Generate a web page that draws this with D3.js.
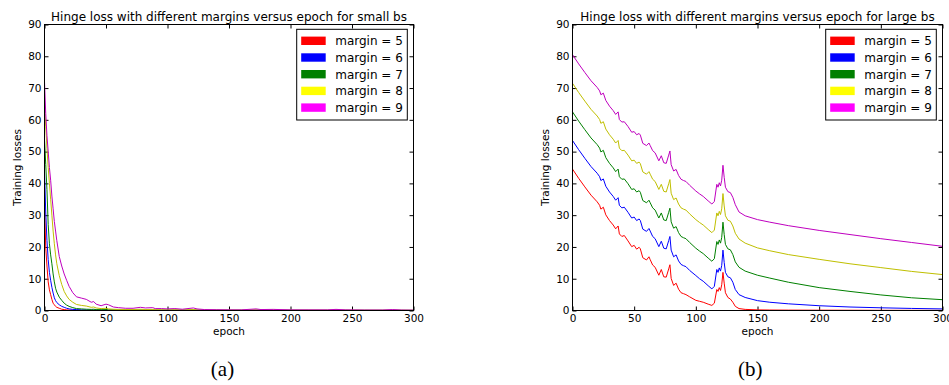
<!DOCTYPE html>
<html>
<head>
<meta charset="utf-8">
<script src="https://cdn.jsdelivr.net/npm/d3@7/dist/d3.min.js"></script>
<style>
  html, body { margin: 0; padding: 0; background: #fff; }
  svg { display: block; }
  text { font-family: "DejaVu Sans", sans-serif; fill: #000; }
</style>
</head>
<body>
<div id="dataviz-container"></div>
<script>
// hinge loss curves, two panels (small bs / large bs)

var margins = [5, 6, 7, 8, 9]
var xTicks = [0, 50, 100, 150, 200, 250, 300]
var yTicks = [0, 10, 20, 30, 40, 50, 60, 70, 80, 90]

// panel (a) - small batch size
var smallEpochs = [0,1,2,3,4,5,6,7,8,9,
  10,12,14,16,18,20,23,26,30,34,
  38,40,42,46,50,52,56,60,66,72,
  78,82,88,90,95,100,106,112,121,124,
  130,140,150,160,172,176,186,200,215,230,
  237,245,260,275,283,290,300]
var smallM5 = [34,20,14,9,6.5,5,3.5,2.3,1.8,1.3,
  1.0,0.7,0.4,0.3,0.2,0.15,0.1,0.08,0.05,0.05,
  0.04,0.04,0.03,0.03,0.03,0.03,0.02,0.02,0.02,0.02,
  0.02,0.02,0.02,0.02,0.02,0.02,0.02,0.01,0.02,0.01,
  0.01,0.01,0.01,0.01,0.01,0.01,0.01,0.01,0.01,0.01,
  0.01,0.01,0.01,0.01,0.01,0.01,0.01]
var smallM6 = [44,31,22,16,12,9.5,7.3,5.5,4,3.1,
  2.5,1.8,1.3,1.0,0.7,0.5,0.35,0.3,0.2,0.18,
  0.15,0.15,0.12,0.1,0.12,0.1,0.08,0.07,0.06,0.06,
  0.07,0.06,0.06,0.05,0.05,0.05,0.05,0.04,0.06,0.04,
  0.04,0.03,0.03,0.03,0.04,0.03,0.03,0.03,0.02,0.02,
  0.03,0.02,0.02,0.02,0.03,0.02,0.02]
var smallM7 = [54,46,38,27,21,17.5,14.7,11.5,9,7,
  5.8,4.2,3.2,2.3,1.7,1.3,0.9,0.6,0.5,0.4,
  0.35,0.4,0.3,0.25,0.3,0.2,0.2,0.15,0.15,0.12,
  0.15,0.12,0.12,0.1,0.1,0.1,0.1,0.08,0.12,0.08,
  0.07,0.06,0.06,0.05,0.08,0.05,0.06,0.05,0.04,0.04,
  0.06,0.04,0.04,0.03,0.05,0.03,0.03]
var smallM8 = [64,58,51,45,40,35,30,25,21,17.5,
  14.7,11,8.2,6.0,4.6,3.5,2.6,1.9,1.6,1.4,
  1.0,1.1,0.8,0.6,0.7,0.5,0.4,0.35,0.3,0.3,
  0.4,0.3,0.35,0.25,0.25,0.2,0.25,0.2,0.3,0.2,
  0.15,0.15,0.12,0.12,0.2,0.12,0.15,0.1,0.1,0.1,
  0.15,0.1,0.08,0.08,0.12,0.08,0.06]
var smallM9 = [72,62,55,50,45,41,36,32,28,25,
  22,17,14,11.5,9.5,7.6,5.6,4.3,3.9,3.5,
  2.6,2.8,2.0,1.5,2.0,1.8,1.1,0.9,0.7,0.7,
  1.0,0.8,0.9,0.6,0.6,0.5,0.6,0.4,0.8,0.5,
  0.3,0.25,0.2,0.2,0.5,0.3,0.35,0.2,0.2,0.2,
  0.35,0.2,0.15,0.15,0.3,0.15,0.1]

// panel (b) - large batch size
var largeEpochs = [0,5,10,15,20,22,23,25,27,30,
  33,35,37,38,40,42,45,48,50,52,
  54,55,57,60,62,63,65,67,70,72,
  74,76,78,79,80,82,84,86,88,90,
  92,95,100,103,106,110,113,115,117,118,
  119,120,121,122,123,124,126,128,130,132,
  135,140,150,160,175,200,225,250,275,300]
var largeM5 = [44.5,41.6,38.9,36.3,34.2,33.1,31.9,32.5,30.1,28.3,
  26.9,25.7,26.6,24.1,23.3,23.6,21.9,20.1,20.5,19.3,
  19.9,19.4,16.6,15.9,16.9,16.0,14.3,13.6,11.1,12.9,
  10.6,10.5,13.1,14.4,10.1,7.9,8.6,6.7,5.6,5.3,
  5.0,4.3,3.2,2.9,2.6,2.0,1.6,2.3,6.6,6.0,
  7.2,6.3,8.1,12.0,8.6,5.6,4.1,3.6,2.6,1.3,
  0.6,0.35,0.2,0.15,0.12,0.1,0.08,0.06,0.05,0.05]
var largeM6 = [53.5,50.6,47.9,45.3,43.2,42.1,40.9,41.4,39.1,37.3,
  35.9,34.7,35.5,33.1,32.3,32.5,30.9,29.1,29.4,28.3,
  28.8,28.3,25.6,24.9,25.8,25.0,23.3,22.6,20.1,21.8,
  19.6,19.4,22.0,23.3,19.0,16.9,17.5,15.6,14.5,14.1,
  13.8,12.6,11.0,10.0,9.2,7.8,6.8,7.6,12.9,12.0,
  13.4,12.4,14.2,19.0,15.1,12.0,10.6,10.3,8.9,6.6,
  5.0,4.1,3.1,2.6,2.1,1.5,1.1,0.85,0.65,0.5]
var largeM7 = [62.5,59.6,56.9,54.3,52.2,51.1,49.9,50.4,48.1,46.3,
  44.9,43.7,44.5,42.1,41.3,41.4,39.9,38.1,38.3,37.3,
  37.7,37.2,34.6,33.9,34.7,33.9,32.3,31.6,29.1,30.7,
  28.5,28.3,30.9,32.2,27.9,25.9,26.4,24.5,23.3,22.9,
  22.6,21.4,19.6,18.7,17.9,16.5,15.5,16.3,21.7,20.8,
  22.2,21.2,23.0,27.8,23.9,20.8,19.4,19.1,17.6,15.3,
  13.6,12.4,11.1,10.2,8.9,7.2,6.0,4.9,4.0,3.4]
var largeM8 = [71.5,68.6,65.9,63.3,61.2,60.1,58.9,59.4,57.1,55.3,
  53.9,52.7,53.5,51.1,50.3,50.4,48.9,47.1,47.3,46.3,
  46.7,46.2,43.6,42.9,43.7,42.9,41.3,40.6,38.1,39.7,
  37.5,37.3,39.9,41.2,36.9,34.9,35.4,33.5,32.3,31.9,
  31.6,30.4,28.6,27.7,26.9,25.5,24.5,25.3,30.7,29.8,
  31.2,30.2,32.0,36.8,32.9,29.8,28.4,28.1,26.6,24.3,
  22.5,21.2,19.7,18.8,17.6,16.1,14.7,13.5,12.3,11.3]
var largeM9 = [80.5,77.6,74.9,72.3,70.2,69.1,67.9,68.4,66.1,64.3,
  62.9,61.7,62.5,60.1,59.3,59.4,57.9,56.1,56.3,55.3,
  55.7,55.2,52.6,51.9,52.7,51.9,50.3,49.6,47.1,48.7,
  46.5,46.3,48.9,50.2,45.9,43.9,44.4,42.5,41.3,40.9,
  40.6,39.4,37.6,36.7,35.9,34.5,33.5,34.3,39.7,38.8,
  40.2,39.2,41.0,45.7,41.9,38.8,37.4,37.1,35.6,33.3,
  31.0,29.8,28.6,27.8,26.7,25.2,23.9,22.6,21.4,20.2]

// matplotlib classic colours: lines use 'y'/'m', legend patches the named ones
var lineColors = ['#ff0000', '#0000ff', '#008000', '#bfbf00', '#bf00bf']
var patchColors = ['#ff0000', '#0000ff', '#008000', '#ffff00', '#ff00ff']

var svg = d3.select('#dataviz-container')
  .append('svg')
    .attr('width', 949)
    .attr('height', 385)

function drawPanel(opts) {
  var x = d3.scaleLinear().domain([0, 300]).range([opts.left, opts.right])
  var y = d3.scaleLinear().domain([0, 90]).range([opts.bottom, opts.top])
  var g = svg.append('g')

  // ticks point inwards on all four sides
  g.append('g')
    .attr('transform', 'translate(0,' + opts.bottom + ')')
    .call(d3.axisBottom(x).tickValues(xTicks).tickSizeInner(-4).tickSizeOuter(0).tickPadding(4))
  g.append('g')
    .attr('transform', 'translate(0,' + opts.top + ')')
    .call(d3.axisTop(x).tickValues(xTicks).tickSizeInner(-4).tickSizeOuter(0).tickFormat(''))
  g.append('g')
    .attr('transform', 'translate(' + opts.left + ',0)')
    .call(d3.axisLeft(y).tickValues(yTicks).tickSizeInner(-4).tickSizeOuter(0).tickPadding(3))
  g.append('g')
    .attr('transform', 'translate(' + opts.right + ',0)')
    .call(d3.axisRight(y).tickValues(yTicks).tickSizeInner(-4).tickSizeOuter(0).tickFormat(''))

  g.selectAll('.domain').remove()
  g.selectAll('.tick line').attr('stroke', '#000')
  g.selectAll('.tick text')
    .attr('font-family', '"DejaVu Sans", sans-serif')
    .attr('font-size', '10.5px')
    .attr('fill', '#000')

  var line = d3.line()
    .x(function(d) { return x(d[0]) })
    .y(function(d) { return y(d[1]) })

  opts.series.forEach(function(vals, i) {
    var pts = opts.epochs.map(function(e, j) { return [e, vals[j]] })
    g.append('path')
      .datum(pts)
      .attr('fill', 'none')
      .attr('stroke', lineColors[i])
      .attr('stroke-width', 1)
      .attr('stroke-linejoin', 'round')
      .attr('d', line)
  })

  // frame
  g.append('rect')
    .attr('x', opts.left)
    .attr('y', opts.top)
    .attr('width', opts.right - opts.left)
    .attr('height', opts.bottom - opts.top)
    .attr('fill', 'none')
    .attr('stroke', '#000')
    .attr('stroke-width', 1)

  var cx = (opts.left + opts.right) / 2

  g.append('text')
    .attr('x', cx)
    .attr('y', 20.5)
    .attr('text-anchor', 'middle')
    .attr('font-size', '12px')
    .text(opts.title)

  g.append('text')
    .attr('x', cx)
    .attr('y', 335)
    .attr('text-anchor', 'middle')
    .attr('font-size', '10.5px')
    .text('epoch')

  g.append('text')
    .attr('transform', 'translate(' + (opts.left - 23.5) + ',' + ((opts.top + opts.bottom) / 2) + ') rotate(-90)')
    .attr('text-anchor', 'middle')
    .attr('font-size', '10.5px')
    .text('Training losses')

  // legend
  var lx = opts.right - 116.8, ly = 29.3
  var leg = g.append('g')
  leg.append('rect')
    .attr('x', lx).attr('y', ly)
    .attr('width', 110.6).attr('height', 90.7)
    .attr('fill', '#fff')
    .attr('stroke', '#000')
    .attr('stroke-width', 1)
  margins.forEach(function(m, i) {
    var cy = ly + 11.5 + i * 16.7
    leg.append('rect')
      .attr('x', lx + 4.5).attr('y', cy - 4.2)
      .attr('width', 24.5).attr('height', 8.4)
      .attr('fill', patchColors[i])
    leg.append('text')
      .attr('x', lx + 38.5).attr('y', cy)
      .attr('dy', '0.36em')
      .attr('font-size', '12px')
      .text('margin = ' + m)
  })

  svg.append('text')
    .attr('x', opts.captionX)
    .attr('y', 376)
    .attr('text-anchor', 'middle')
    .style('font-family', '"Liberation Serif", "Times New Roman", serif')
    .attr('font-size', '21px')
    .text(opts.caption)
}

drawPanel({
  left: 44.5, right: 413.5, top: 24.5, bottom: 310.5,
  epochs: smallEpochs,
  series: [smallM5, smallM6, smallM7, smallM8, smallM9],
  title: 'Hinge loss with different margins versus epoch for small bs',
  caption: '(a)', captionX: 222.5
})

drawPanel({
  left: 572.5, right: 942.5, top: 24.5, bottom: 310.5,
  epochs: largeEpochs,
  series: [largeM5, largeM6, largeM7, largeM8, largeM9],
  title: 'Hinge loss with different margins versus epoch for large bs',
  caption: '(b)', captionX: 750.3
})
</script>
</body>
</html>
